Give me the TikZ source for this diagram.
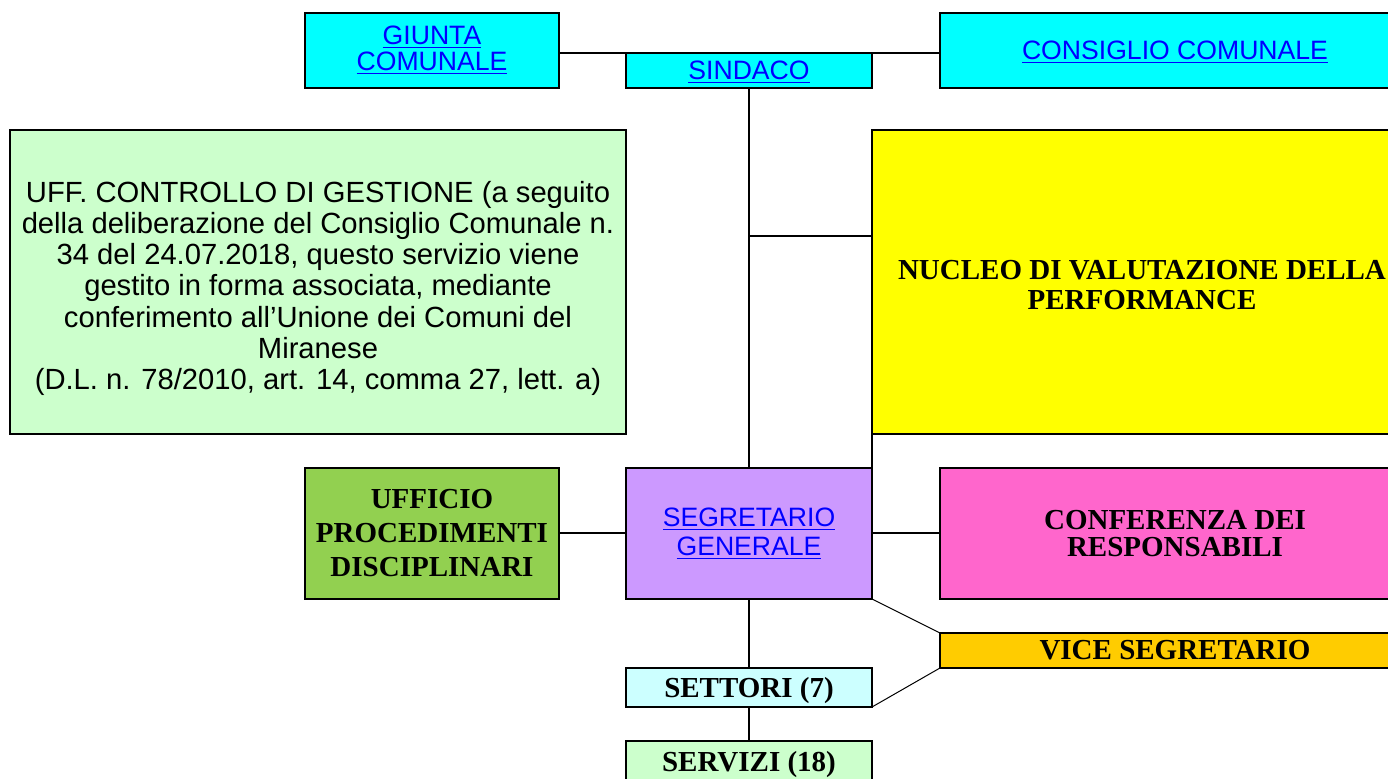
\documentclass[tikz,border=0pt]{standalone}
\usepackage{fontspec}
\setmainfont{Liberation Serif}
\newfontfamily\arialfont{Liberation Sans}
\usepackage{xcolor}
\usepackage{tikz}
\definecolor{ciano}{HTML}{00FFFF}
\definecolor{ciano chiaro}{HTML}{CCFFFF}
\definecolor{verde chiaro}{HTML}{CCFFCC}
\definecolor{verde}{HTML}{92D050}
\definecolor{giallo}{HTML}{FFFF00}
\definecolor{lilla}{HTML}{CC99FF}
\definecolor{rosa}{HTML}{FF66CC}
\definecolor{arancio}{HTML}{FFCC00}
\definecolor{linkblu}{HTML}{0000FF}
\newcommand{\lnk}[1]{\textcolor{linkblu}{\underline{#1}}}

\begin{document}
\begin{tikzpicture}[x=0.5pt, y=-0.5pt,
	box/.style={draw, line width=1pt, inner sep=0pt, outer sep=0pt, align=center},
	sans/.style={font=\arialfont\fontsize{13.3}{14.5}\selectfont},
	grassetto/.style={font=\bfseries\fontsize{14.5}{15}\selectfont},
	link/.style={line width=1pt},
	sottile/.style={line width=0.5pt}]
	\useasboundingbox (0,0) rectangle (1388,779);
	\clip (0,0) rectangle (1388,779);
	% organi politici
	\node[box, fill=ciano, minimum width=127pt, minimum height=37.5pt,
		font=\arialfont\fontsize{13.3}{13}\selectfont] (giunta) at (432,50.5) {\lnk{GIUNTA}\\\lnk{COMUNALE}};
	\node[box, sans, fill=ciano, minimum width=123pt, minimum height=17.5pt, text depth=0pt] (sindaco) at (749,70.5) {\lnk{SINDACO}};
	\node[box, sans, fill=ciano, minimum width=240pt, minimum height=37.5pt, text depth=0pt] (consiglio) at (1180,50.5) {\hspace*{-5pt}\lnk{CONSIGLIO COMUNALE}};
	% uffici di staff
	\node[box, fill=verde chiaro, minimum width=308pt, minimum height=152pt,
		font=\arialfont\fontsize{14.6}{15.65}\selectfont] (controllo) at (318,282) {\rule{0pt}{17pt}UFF. CONTROLLO DI GESTIONE (a seguito\\della deliberazione del Consiglio Comunale n.\\34 del 24.07.2018, questo servizio viene\\gestito in forma associata, mediante\\conferimento all’Unione dei Comuni del\\Miranese\\(D.L. n. 78/2010, art. 14, comma 27, lett. a)};
	\node[box, grassetto, fill=giallo, minimum width=270pt, minimum height=152pt] (nucleo) at (1142,282) {\rule{0pt}{13pt}NUCLEO DI VALUTAZIONE DELLA\\PERFORMANCE};
	% segreteria
	\node[box, sans, fill=lilla, minimum width=123pt, minimum height=65.5pt] (segretario) at (749,533.5) {\lnk{SEGRETARIO}\\\lnk{GENERALE}};
	\node[box, fill=verde, minimum width=127pt, minimum height=65.5pt,
		font=\bfseries\fontsize{14.5}{17}\selectfont] (ufficio) at (432,533.5) {UFFICIO\\PROCEDIMENTI\\DISCIPLINARI};
	\node[box, fill=rosa, minimum width=235pt, minimum height=65.5pt,
		font=\bfseries\fontsize{14.5}{13.5}\selectfont] (conferenza) at (1175,533.5) {CONFERENZA DEI\\RESPONSABILI};
	\node[box, grassetto, fill=arancio, minimum width=235pt, minimum height=17.5pt] (vice) at (1175,650.5) {VICE SEGRETARIO};
	% struttura
	\node[box, grassetto, fill=ciano chiaro, minimum width=123pt, minimum height=19.5pt, text depth=0pt] (settori) at (749,687.5) {SETTORI (7)};
	\node[box, grassetto, fill=verde chiaro, minimum width=123pt, minimum height=20pt, text depth=0pt] (servizi) at (749,761) {SERVIZI (18)};
	% collegamenti
	\coordinate (nodo) at (749,236);
	\draw[link] (giunta.east |- sindaco.north) -- (sindaco.north west);
	\draw[link] (sindaco.north east) -- (consiglio.west |- sindaco.north);
	\draw[link] (sindaco.south) -- (segretario.north);
	\draw[link] (nodo) -- (nodo -| nucleo.west);
	\draw[link] (nucleo.south west) -- (segretario.north east);
	\draw[link] (ufficio.east) -- (segretario.west);
	\draw[link] (segretario.east) -- (conferenza.west);
	\draw[link] (segretario.south) -- (settori.north);
	\draw[link] (settori.south) -- (servizi.north);
	\draw[sottile] (segretario.south east) -- (vice.north west);
	\draw[sottile] (vice.south west) -- (settori.south east);
\end{tikzpicture}
\end{document}
